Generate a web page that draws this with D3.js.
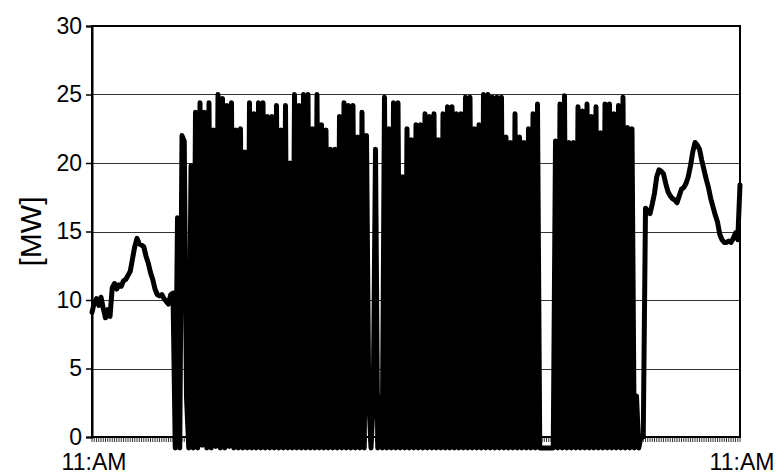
<!DOCTYPE html>
<html>
<head>
<meta charset="utf-8">
<script src="https://cdn.jsdelivr.net/npm/d3@7"></script>
<style>
  body { margin: 0; background: #fff; }
  text { font-family: "Liberation Sans", Arial, sans-serif; fill: #000; }
</style>
</head>
<body>
<div id="chart"></div>
<script>
// samples every 5 minutes, 11 AM to 11 AM next day
var yTicks = [0, 5, 10, 15, 20, 25, 30];
var xLabels = ["11:AM", "11:AM"];

// 11:00 - 14:00, before the start of the cycling
var morningMW = [9.1, 9.8, 10.1, 9.6, 10.2, 9.4, 8.7, 9.3, 8.8, 10.9,
  11.2, 10.8, 11.1, 11.0, 11.4, 11.5, 11.8, 12.1, 13.0, 13.9,
  14.5, 14.1, 14.0, 13.9, 13.2, 12.7, 12.0, 11.5, 10.8, 10.4,
  10.3, 10.4, 10.1, 9.9, 9.7, 10.4, 10.5];

// on/off cycling period
var cyclingMW = [-0.8, 16.0, -0.8, 22.0, 21.6, 2.9, -0.8, 19.8, -0.8, 23.7,
  -0.8, 24.4, -0.6, 23.7, -0.8, 24.4, -0.8, 22.4, -0.7, 25.0,
  -0.8, 24.7, -0.8, 24.2, -0.7, 24.4, -0.8, 22.4, -0.8, 22.5,
  -0.8, 20.8, -0.8, 24.4, -0.8, 23.6, -0.8, 24.4, -0.8, 24.4,
  -0.8, 23.4, -0.8, 23.4, -0.8, 24.2, -0.8, 22.4, -0.8, 24.2,
  -0.8, 20.0, -0.8, 25.0, -0.8, 24.2, -0.8, 25.0, -0.8, 25.0,
  -0.8, 22.5, -0.8, 25.0, -0.8, 22.8, -0.8, 22.4, -0.8, 21.0,
  -0.8, 21.0, -0.8, 23.4, -0.8, 24.4, -0.8, 24.2, -0.8, 24.2,
  -0.8, 21.9, -0.8, 23.7, -0.8, 22.0, 2.9, -0.8, 2.6, 21.0,
  -0.8, 2.9, -0.8, 24.8, -0.8, 22.5, -0.8, 24.4, -0.8, 24.4,
  -0.8, 19.0, -0.8, 22.5, -0.8, 21.7, -0.8, 22.8, -0.8, 22.8,
  -0.8, 23.6, -0.8, 23.4, -0.8, 23.6, -0.8, 21.7, -0.8, 23.6,
  -0.8, 24.1, -0.8, 24.1, -0.8, 23.6, -0.8, 23.6, -0.8, 24.8,
  -0.8, 24.8, -0.8, 22.5, -0.8, 22.8, -0.8, 25.0, -0.8, 25.0,
  -0.8, 24.8, -0.8, 24.8, -0.8, 24.8, -0.8, 21.9, -0.8, 21.5,
  -0.8, 23.6, -0.8, 21.9, -0.8, 21.5, -0.8, 22.5, -0.8, 23.6,
  -0.8, 24.3, -0.8, -0.8, -0.8, -0.8, -0.8, -0.8, -0.8, 21.6,
  -0.8, 24.3, -0.8, 24.9, -0.8, 21.5, -0.8, 21.5, -0.8, 24.1,
  -0.8, 23.8, -0.8, 24.3, -0.8, 23.4, -0.8, 24.1, -0.8, 22.2,
  -0.8, 24.3, -0.8, 24.3, -0.8, 23.6, -0.8, 24.2, -0.8, 24.8,
  -0.8, 22.6, -0.8, 22.5, -0.8, 3.0, -0.8, 0.0, 0.0];

// evening / night, back to continuous operation
var eveningMW = [16.7, 16.5, 16.3, 17.0, 17.8, 19.0, 19.5, 19.4, 19.2, 18.5,
  17.9, 17.6, 17.4, 17.3, 17.1, 17.6, 18.1, 18.2, 18.5, 19.0,
  19.8, 20.8, 21.5, 21.3, 21.0, 20.2, 19.5, 18.8, 18.2, 17.4,
  16.8, 16.2, 15.7, 14.8, 14.4, 14.2, 14.2, 14.3, 14.2, 14.5,
  14.9, 14.4, 18.4];

var mw = morningMW.concat(cyclingMW, eveningMW);
var nSteps = mw.length - 1;

var width = 782, height = 475;
var margin = {top: 26, right: 42, bottom: 38, left: 92};

var svg = d3.select("#chart").append("svg")
    .attr("width", width)
    .attr("height", height);

var x = d3.scaleLinear()
    .domain([0, nSteps])
    .range([margin.left, width - margin.right]);

var y = d3.scaleLinear()
    .domain([0, 30])
    .range([height - margin.bottom, margin.top]);

// horizontal grid lines
svg.append("g")
  .selectAll("line")
  .data(yTicks.filter(function(d) { return d > 0 && d < 30; }))
  .join("line")
    .attr("x1", x(0))
    .attr("x2", x(nSteps))
    .attr("y1", function(d) { return Math.round(y(d)) + 0.5; })
    .attr("y2", function(d) { return Math.round(y(d)) + 0.5; })
    .attr("stroke", "#333")
    .attr("stroke-width", 1);

// small ticks along the bottom, one per sample
svg.append("g")
  .selectAll("line")
  .data(d3.range(0, nSteps + 1))
  .join("line")
    .attr("x1", function(d) { return x(d); })
    .attr("x2", function(d) { return x(d); })
    .attr("y1", y(0))
    .attr("y2", y(0) + 5)
    .attr("stroke", "#333")
    .attr("stroke-width", 1);

// the series
var line = d3.line()
    .x(function(d, i) { return x(i); })
    .y(function(d) { return y(d); });

svg.append("path")
    .datum(mw)
    .attr("d", line)
    .attr("fill", "none")
    .attr("stroke", "#000")
    .attr("stroke-width", 5)
    .attr("stroke-linejoin", "round")
    .attr("stroke-linecap", "round");

// plot frame
svg.append("rect")
    .attr("x", x(0))
    .attr("y", y(30))
    .attr("width", x(nSteps) - x(0))
    .attr("height", y(0) - y(30))
    .attr("fill", "none")
    .attr("stroke", "#000")
    .attr("stroke-width", 2);

// y axis
var yAxis = d3.axisLeft(y)
    .tickValues(yTicks)
    .tickSize(6)
    .tickPadding(4)
    .tickFormat(d3.format("d"));

var gy = svg.append("g")
    .attr("transform", "translate(" + x(0) + ",0)")
    .call(yAxis);
gy.select(".domain").attr("stroke-width", 2);
gy.selectAll(".tick line").attr("stroke-width", 1.5);
gy.selectAll(".tick text")
    .style("font-size", "23px")
    .attr("fill", "#000");

// x labels at both ends
svg.append("g")
  .selectAll("text")
  .data([0, nSteps])
  .join("text")
    .attr("x", function(d) { return x(d) + 2; })
    .attr("y", 470)
    .attr("text-anchor", "middle")
    .style("font-size", "23px")
    .text(function(d, i) { return xLabels[i]; });

// y title
svg.append("text")
    .attr("transform", "translate(41," + ((y(0) + y(30)) / 2) + ") rotate(-90)")
    .attr("text-anchor", "middle")
    .style("font-size", "30px")
    .text("[MW]");
</script>
</body>
</html>
